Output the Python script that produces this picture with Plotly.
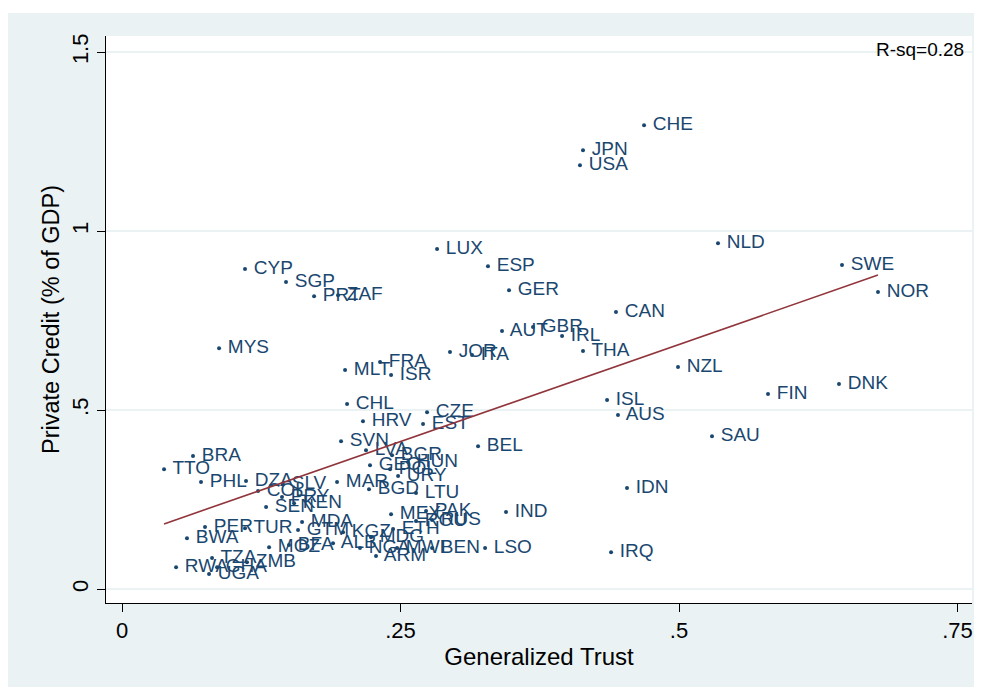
import plotly.graph_objects as go

# 국가별 데이터
countries = [
    "CHE", "JPN", "USA", "NLD", "SWE", "NOR", "LUX", "ESP", "GER", "CYP",
    "SGP", "PRT", "ZAF", "CAN", "AUT", "GBR", "IRL", "THA", "MYS", "JOR",
    "ITA", "FRA", "MLT", "ISR", "NZL", "ISL", "AUS", "FIN", "DNK", "SAU",
    "CHL", "CZE", "HRV", "EST", "BEL", "SVN", "LVA", "BGR", "GEO", "HUN",
    "POL", "URY", "BRA", "TTO", "PHL", "DZA", "SLV", "COL", "PRY", "KEN",
    "SEN", "MAR", "BGD", "LTU", "MEX", "PAK", "ROU", "RUS", "IND", "IDN",
    "LSO", "IRQ", "PER", "TUR", "MDA", "GTM", "KGZ", "ETH", "MDG", "ALB",
    "BFA", "MOZ", "NGA", "MWI", "BEN", "ARM", "BWA", "TZA", "ZMB", "GHA",
    "RWA", "UGA",
]
trust = [
    0.4686, 0.4138, 0.4111, 0.5350, 0.6463, 0.6786, 0.2828, 0.3285, 0.3474, 0.1104,
    0.1472, 0.1724, 0.1939, 0.4434, 0.3411, 0.3689, 0.3950, 0.4138, 0.0871, 0.2944,
    0.3142, 0.2316, 0.2002, 0.2415, 0.4991, 0.4354, 0.4452, 0.5799, 0.6436, 0.5296,
    0.2020, 0.2738, 0.2163, 0.2702, 0.3196, 0.1966, 0.2190, 0.2424, 0.2226, 0.2567,
    0.2406, 0.2478, 0.0637, 0.0377, 0.0709, 0.1113, 0.1445, 0.1221, 0.1436, 0.1544,
    0.1293, 0.1930, 0.2217, 0.2639, 0.2415, 0.2729, 0.2639, 0.2783, 0.3447, 0.4533,
    0.3259, 0.4390, 0.0745, 0.1104, 0.1616, 0.1580, 0.1984, 0.2433, 0.2235, 0.1894,
    0.1499, 0.1320, 0.2136, 0.2469, 0.2783, 0.2280, 0.0583, 0.0808, 0.1122, 0.0853,
    0.0485, 0.0781,
]
credit = [
    1.296, 1.226, 1.184, 0.966, 0.905, 0.830, 0.950, 0.902, 0.835, 0.894,
    0.858, 0.818, 0.821, 0.774, 0.721, 0.732, 0.707, 0.665, 0.673, 0.662,
    0.654, 0.634, 0.612, 0.598, 0.620, 0.528, 0.486, 0.545, 0.573, 0.427,
    0.517, 0.494, 0.469, 0.461, 0.399, 0.413, 0.388, 0.374, 0.346, 0.355,
    0.335, 0.316, 0.372, 0.335, 0.299, 0.302, 0.293, 0.274, 0.257, 0.240,
    0.229, 0.299, 0.279, 0.268, 0.209, 0.218, 0.190, 0.193, 0.215, 0.282,
    0.115, 0.103, 0.173, 0.170, 0.187, 0.165, 0.159, 0.168, 0.145, 0.128,
    0.123, 0.117, 0.115, 0.115, 0.115, 0.092, 0.142, 0.087, 0.075, 0.061,
    0.061, 0.042,
]
# 회귀선 양 끝 값 (그림에서 읽음, 가장 작은/큰 trust 위치)
fit_credit = [0.182, 0.877]
r_sq_text = "R-sq=0.28"

x_ticks = [0, 0.25, 0.5, 0.75]
x_tick_labels = ["0", ".25", ".5", ".75"]
y_ticks = [0, 0.5, 1, 1.5]
y_tick_labels = ["0", ".5", "1", "1.5"]

navy = "#1a476f"
bg = "#eaf2f3"
font = "Liberation Sans, Arial, sans-serif"

fit_trust = [min(trust), max(trust)]

fig = go.Figure()

fig.add_trace(go.Scatter(
    x=trust, y=credit, text=countries, texttemplate=" %{text}",
    mode="markers+text", textposition="middle right",
    marker=dict(color=navy, size=4),
    textfont=dict(color=navy, size=19, family=font),
    hoverinfo="text", showlegend=False,
))
fig.add_trace(go.Scatter(
    x=fit_trust, y=fit_credit, mode="lines",
    line=dict(color="#90353b", width=1.6),
    showlegend=False, hoverinfo="skip",
))

# 위쪽 흰 띠
fig.add_shape(type="rect", xref="paper", yref="paper",
              x0=-0.2, x1=1.2, y0=1.0406, y1=1.2,
              fillcolor="white", line_width=0, layer="below")

fig.add_annotation(
    text=r_sq_text, xref="paper", yref="paper", x=0.993, y=0.977,
    xanchor="right", yanchor="middle", showarrow=False,
    font=dict(size=19, color="black", family=font),
)

fig.update_layout(
    width=974, height=679,  # body 기본 여백 8px 고려
    margin=dict(l=98, r=10, t=28, b=84),
    paper_bgcolor=bg,
    plot_bgcolor="white",
    font=dict(family=font, color="black"),
    xaxis=dict(
        range=[-0.0144, 0.763], tickvals=x_ticks, ticktext=x_tick_labels,
        showgrid=False, zeroline=False, showline=True, linecolor="black",
        linewidth=1, ticks="outside", ticklen=8, tickcolor="black",
        tickfont=dict(size=22),
        title=dict(text="Generalized Trust", font=dict(size=24), standoff=5),
    ),
    yaxis=dict(
        range=[-0.039, 1.545], tickvals=y_ticks, ticktext=y_tick_labels,
        showgrid=True, gridcolor=bg, gridwidth=1.5, zeroline=False,
        showline=True, linecolor="black", linewidth=1, ticks="outside",
        ticklen=8, tickcolor="black", tickangle=-90,
        tickfont=dict(size=22),
        title=dict(text="Private Credit (% of GDP)", font=dict(size=23.5), standoff=1),
    ),
)

fig.write_html("out.html")
